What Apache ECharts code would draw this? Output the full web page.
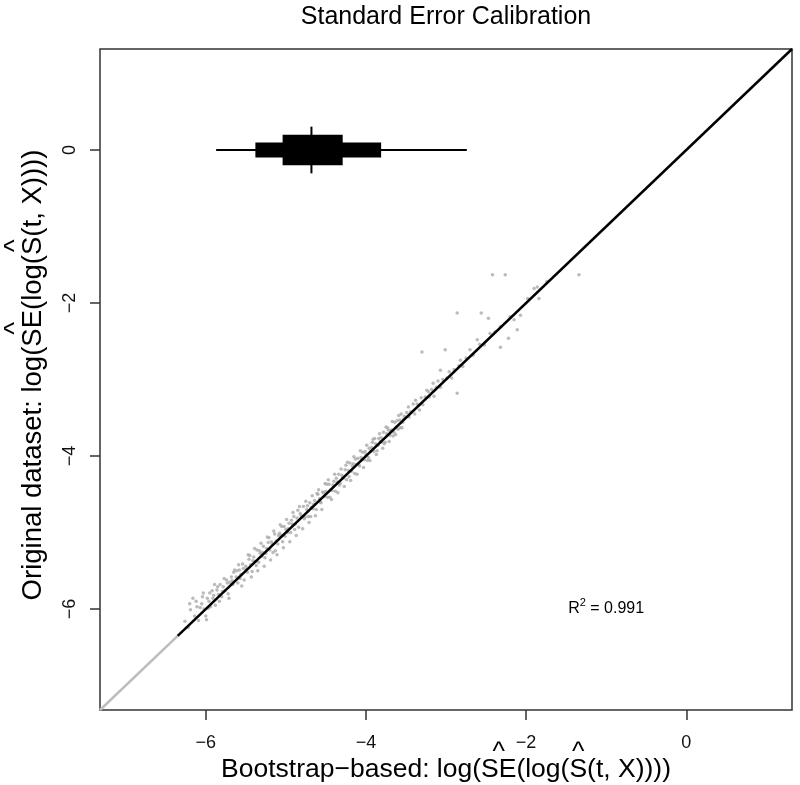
<!DOCTYPE html>
<html>
<head>
<meta charset="utf-8">
<script src="https://cdn.jsdelivr.net/npm/echarts@6.0.0/dist/echarts.min.js"></script>
<style>
  body { margin: 0; background: #fff; }
  #main { width: 800px; height: 785px; }
</style>
</head>
<body>
<div id="main"></div>
<script>
// axis limits (data range -7..1 padded by 4%, like R does)
const axisRange = [-7.32, 1.32];
const xTicks = [-6, -4, -2, 0];
const yTicks = [-6, -4, -2, 0];
// the identity line is drawn black from here on, grey below
const fitStart = -6.35;
// bootstrap SE quantiles: 2.5%, 10%, 25%, 50%, 75%, 90%, 97.5%
const seQuantiles = [-5.87, -5.38, -5.04, -4.68, -4.29, -3.81, -2.74];
const quantileRow = 0;
const r2Value = '0.991';
const r2Pos = [-1.0, -6.0];

// [bootstrap-based, original dataset]
const points = [
    [-6.26,-6.16],[-6.22,-6.24],[-6.19,-6.01],[-6.16,-5.86],[-6.14,-6.09],[-6.11,-5.97],[-6.09,-6.15],[-6.07,-5.98],
    [-6.04,-5.84],[-6.02,-6.00],[-6.00,-6.09],[-5.98,-5.86],[-5.96,-5.90],[-5.94,-5.97],[-5.92,-5.76],[-5.90,-5.82],
    [-5.88,-5.95],[-5.86,-5.75],[-5.84,-5.81],[-5.82,-5.68],[-5.80,-5.84],[-5.78,-5.71],[-5.76,-5.76],[-5.74,-5.62],
    [-5.72,-5.80],[-5.70,-5.65],[-5.68,-5.58],[-5.66,-5.68],[-5.64,-5.49],[-5.62,-5.58],[-5.60,-5.66],[-5.58,-5.49],
    [-5.56,-5.55],[-5.54,-5.41],[-5.52,-5.62],
    [-6.05,-5.93],[-5.97,-5.99],[-5.91,-5.86],[-5.85,-5.71],[-5.79,-5.77],[-5.73,-5.66],[-5.67,-5.63],[-5.61,-5.50],
    [-5.57,-5.60],[-5.53,-5.47],
    [-6.12,-5.90],[-6.03,-5.79],[-5.95,-5.79],[-5.89,-5.68],[-5.83,-5.90],[-5.77,-5.60],[-5.71,-5.86],[-5.65,-5.52],
    [-5.59,-5.42],[-5.55,-5.70],[-6.20,-5.93],[-5.99,-6.14],
    [-5.50,-5.44],[-5.48,-5.52],[-5.46,-5.35],[-5.44,-5.42],[-5.42,-5.51],[-5.40,-5.32],[-5.38,-5.38],[-5.36,-5.23],
    [-5.34,-5.39],[-5.32,-5.27],[-5.30,-5.31],[-5.28,-5.18],[-5.26,-5.33],[-5.24,-5.21],[-5.22,-5.13],[-5.20,-5.23],
    [-5.18,-5.12],[-5.16,-5.26],[-5.14,-5.02],[-5.12,-5.11],[-5.10,-5.15],[-5.08,-5.01],[-5.06,-5.04],[-5.04,-5.12],
    [-5.02,-4.92],[-5.00,-4.96],[-4.98,-5.00],[-4.96,-4.88],[-4.94,-5.00],[-4.92,-4.89],[-4.90,-4.79],[-4.88,-4.89],
    [-4.86,-4.81],[-4.84,-4.93],[-4.82,-4.75],[-4.80,-4.80],[-4.78,-4.66],[-4.76,-4.80],[-4.74,-4.70],[-4.72,-4.79],
    [-4.70,-4.61],[-4.68,-4.67],[-4.66,-4.69],[-4.64,-4.58],[-4.62,-4.70],[-4.60,-4.50],[-4.58,-4.56],[-4.56,-4.61],
    [-4.54,-4.47],[-4.52,-4.53],
    [-5.49,-5.48],[-5.45,-5.30],[-5.41,-5.37],[-5.37,-5.43],[-5.33,-5.24],[-5.29,-5.26],[-5.25,-5.27],[-5.21,-5.07],
    [-5.17,-5.15],[-5.13,-5.24],[-5.09,-5.04],[-5.05,-4.92],[-5.01,-5.05],[-4.97,-4.95],[-4.93,-4.84],[-4.89,-4.96],
    [-4.85,-4.71],[-4.81,-4.78],[-4.77,-4.82],[-4.73,-4.65],[-4.69,-4.79],[-4.65,-4.63],[-4.61,-4.49],[-4.57,-4.60],
    [-4.53,-4.48],
    [-5.47,-5.29],[-5.43,-5.58],[-5.39,-5.21],[-5.35,-5.50],[-5.31,-5.14],[-5.27,-5.44],[-5.23,-5.06],[-5.19,-5.36],
    [-5.15,-4.98],[-5.11,-5.29],[-5.07,-4.90],[-5.03,-5.20],[-4.99,-4.83],[-4.95,-5.12],[-4.91,-4.74],[-4.87,-5.04],
    [-4.83,-4.66],[-4.79,-4.95],[-4.75,-4.59],[-4.71,-4.87],[-4.67,-4.52],[-4.63,-4.78],[-4.59,-4.44],[-4.55,-4.70],
    [-4.51,-4.36],
    [-4.50,-4.46],[-4.48,-4.54],[-4.46,-4.37],[-4.44,-4.44],[-4.42,-4.45],[-4.40,-4.33],[-4.38,-4.46],[-4.36,-4.34],
    [-4.34,-4.24],[-4.32,-4.36],[-4.30,-4.25],[-4.28,-4.29],[-4.26,-4.18],[-4.24,-4.31],[-4.22,-4.19],[-4.20,-4.09],
    [-4.18,-4.20],[-4.16,-4.10],[-4.14,-4.23],[-4.12,-4.11],[-4.10,-4.03],[-4.08,-4.13],[-4.06,-4.02],[-4.04,-3.95],
    [-4.02,-4.05],[-4.00,-3.98],[-3.98,-4.06],[-3.96,-3.90],[-3.94,-3.94],[-3.92,-3.82],[-3.90,-3.94],[-3.88,-3.84],
    [-3.86,-3.93],[-3.84,-3.77],[-3.82,-3.81],[-3.80,-3.82],[-3.78,-3.69],[-3.76,-3.82],[-3.74,-3.71],[-3.72,-3.66],
    [-3.70,-3.73],[-3.68,-3.66],[-3.66,-3.74],[-3.64,-3.56],[-3.62,-3.62],[-3.60,-3.65],[-3.58,-3.53],[-3.56,-3.45],
    [-3.54,-3.56],[-3.52,-3.48],
    [-4.49,-4.37],[-4.45,-4.54],[-4.41,-4.38],[-4.37,-4.29],[-4.33,-4.38],[-4.29,-4.28],[-4.25,-4.12],[-4.21,-4.27],
    [-4.17,-4.13],[-4.13,-4.04],[-4.09,-4.11],[-4.05,-4.05],[-4.01,-3.94],[-3.97,-4.02],[-3.93,-3.89],[-3.89,-3.77],
    [-3.85,-3.86],[-3.81,-3.76],[-3.77,-3.84],[-3.73,-3.63],[-3.69,-3.67],[-3.65,-3.69],[-3.61,-3.54],[-3.57,-3.63],
    [-3.53,-3.52],
    [-4.47,-4.31],[-4.43,-4.57],[-4.39,-4.24],[-4.35,-4.48],[-4.31,-4.17],[-4.27,-4.40],[-4.23,-4.08],[-4.19,-4.32],
    [-4.15,-4.01],[-4.11,-4.24],[-4.07,-3.93],[-4.03,-4.15],[-3.99,-3.86],[-3.95,-4.06],[-3.91,-3.78],[-3.87,-3.98],
    [-3.83,-3.71],[-3.79,-3.90],[-3.75,-3.62],[-3.71,-3.81],[-3.67,-3.55],[-3.63,-3.72],[-3.59,-3.47],[-3.55,-3.63],
    [-3.49,-3.43],[-3.46,-3.49],[-3.44,-3.42],[-3.41,-3.32],[-3.39,-3.45],[-3.36,-3.32],[-3.34,-3.34],[-3.31,-3.24],
    [-3.29,-3.33],[-3.26,-3.23],[-3.24,-3.14],[-3.21,-3.23],[-3.18,-3.13],[-3.15,-3.22],[-3.12,-3.10],[-3.10,-3.02],
    [-3.07,-3.10],[-3.04,-3.00],[-3.01,-2.61],[-3.30,-2.64],[-2.99,-2.98],[-2.96,-2.90],[-2.93,-2.98],[-2.90,-2.87],
    [-2.86,-3.18],[-3.07,-2.88],[-2.86,-2.13],[-3.47,-3.36],[-3.38,-3.27],[-3.33,-3.40],[-3.22,-3.16],[-3.16,-3.05],
    [-2.84,-2.82],[-2.82,-2.75],[-2.79,-2.83],[-2.75,-2.72],[-2.70,-2.61],[-2.66,-2.68],[-2.61,-2.48],[-2.58,-2.54],
    [-2.56,-2.13],[-2.52,-2.55],[-2.47,-2.20],[-2.45,-2.40],[-2.42,-1.63],[-2.39,-2.38],[-2.32,-2.58],[-2.32,-2.31],
    [-2.26,-1.63],[-2.22,-2.46],[-2.20,-2.18],[-2.15,-2.22],[-2.11,-2.35],[-2.07,-2.16],[-1.98,-1.94],[-1.90,-1.81],
    [-1.86,-1.79],[-1.84,-1.94],[-1.74,-1.72],[-1.34,-1.63]
];

const fontFamily = '"Liberation Sans", Arial, Helvetica, sans-serif';
let measureCtx = document.createElement('canvas').getContext('2d');

function textWidth(str, size) {
    measureCtx.font = size + 'px ' + fontFamily;
    return measureCtx.measureText(str).width;
}

function fmtTick(v) {
    return (v < 0 ? '\u2212' : '') + Math.abs(v);
}

function textEl(str, size, x, y, align, valign) {
    return {
        type: 'text', x: x, y: y, silent: true,
        style: {
            text: str, font: size + 'px ' + fontFamily, fill: '#000',
            align: align, verticalAlign: valign, textAlign: align, textVerticalAlign: valign
        }
    };
}

// label made of parts, some with a hat (^) above them, like R plotmath hat()
function hatLabel(parts, size, x, y, rotation) {
    let full = parts.map(p => p[0]).join('');
    let total = textWidth(full, size);
    let children = [textEl(full, size, 0, 0, 'center', 'middle')];
    let offset = -total / 2;
    parts.forEach(function(p) {
        let w = textWidth(p[0], size);
        if (p[1]) {
            children.push(textEl('^', size, offset + w / 2, -size * 0.64, 'center', 'middle'));
        }
        offset += w;
    });
    return {type: 'group', x: x, y: y, rotation: rotation, children: children};
}

function renderQuantiles(params, api) {
    let q = [];
    for (let i = 0; i < 7; i++) q.push(api.value(i));
    let yc = api.value(7);
    let rect = function(x0, x1, h) {
        let a = api.coord([x0, yc + h]), b = api.coord([x1, yc - h]);
        return {type: 'rect', shape: {x: a[0], y: a[1], width: b[0] - a[0], height: b[1] - a[1]}, style: {fill: '#000'}};
    };
    let wl = api.coord([q[0], yc]), wr = api.coord([q[6], yc]);
    let mt = api.coord([q[3], yc + 0.305]), mb = api.coord([q[3], yc - 0.305]);
    return {
        type: 'group',
        children: [
            {type: 'line', shape: {x1: wl[0], y1: wl[1], x2: wr[0], y2: wr[1]}, style: {stroke: '#000', lineWidth: 2}},
            rect(q[1], q[5], 0.098),
            rect(q[2], q[4], 0.198),
            {type: 'line', shape: {x1: mt[0], y1: mt[1], x2: mb[0], y2: mb[1]}, style: {stroke: '#000', lineWidth: 2}}
        ]
    };
}

let chart = echarts.init(document.getElementById('main'), null, {renderer: 'canvas'});

let axisCommon = {
    type: 'value',
    min: axisRange[0],
    max: axisRange[1],
    axisLine: {show: false, onZero: false},
    splitLine: {show: false}
};

chart.setOption({
    animation: false,
    backgroundColor: '#fff',
    grid: {
        left: 100, right: 8, top: 49, bottom: 75,
        show: true, borderColor: '#333', borderWidth: 1.5, backgroundColor: 'transparent',
        outerBoundsMode: 'none'
    },
    xAxis: Object.assign({}, axisCommon, {
        axisTick: {show: true, length: 10, customValues: xTicks, lineStyle: {color: '#333', width: 1.5}},
        axisLabel: {customValues: xTicks, margin: 24, fontSize: 18, color: '#111', fontFamily: fontFamily, formatter: fmtTick}
    }),
    yAxis: Object.assign({}, axisCommon, {
        axisTick: {show: true, length: 10, customValues: yTicks, lineStyle: {color: '#333', width: 1.5}},
        axisLabel: {customValues: yTicks, margin: 21, rotate: 90, fontSize: 18, color: '#111', fontFamily: fontFamily, formatter: fmtTick}
    }),
    series: [
        {
            type: 'scatter',
            data: points,
            symbolSize: 3.5,
            itemStyle: {color: '#aaaaaa'},
            silent: true
        },
        {
            type: 'line',
            data: [[axisRange[0], axisRange[0]], [fitStart, fitStart]],
            symbol: 'none',
            lineStyle: {color: '#bdbdbd', width: 2.5},
            silent: true
        },
        {
            type: 'line',
            data: [[fitStart, fitStart], [axisRange[1], axisRange[1]]],
            symbol: 'none',
            lineStyle: {color: '#000', width: 2.5},
            silent: true
        },
        {
            type: 'custom',
            renderItem: renderQuantiles,
            data: [seQuantiles.concat([quantileRow])],
            silent: true
        }
    ]
});

// texts: title, axis titles with hats, R^2 note
let rp = chart.convertToPixel({gridIndex: 0}, r2Pos);
let rSize = 16, supSize = 11;
let wR = textWidth('R', rSize), wSup = textWidth('2', supSize), wRest = textWidth(' = ' + r2Value, rSize);
let r0 = rp[0] - (wR + wSup + wRest) / 2;

chart.setOption({
    graphic: [
        textEl('Standard Error Calibration', 25, 446, 17, 'center', 'middle'),
        hatLabel([['Bootstrap\u2212based: log(', false], ['SE', true], ['(log(', false], ['S', true], ['(t, X))))', false]],
            26.5, 446, 770, 0),
        hatLabel([['Original dataset: log(', false], ['SE', true], ['(log(', false], ['S', true], ['(t, X))))', false]],
            27.5, 33, 375, Math.PI / 2),
        textEl('R', rSize, r0, rp[1], 'left', 'middle'),
        textEl('2', supSize, r0 + wR, rp[1] - 6, 'left', 'middle'),
        textEl(' = ' + r2Value, rSize, r0 + wR + wSup, rp[1], 'left', 'middle')
    ]
});
</script>
</body>
</html>
